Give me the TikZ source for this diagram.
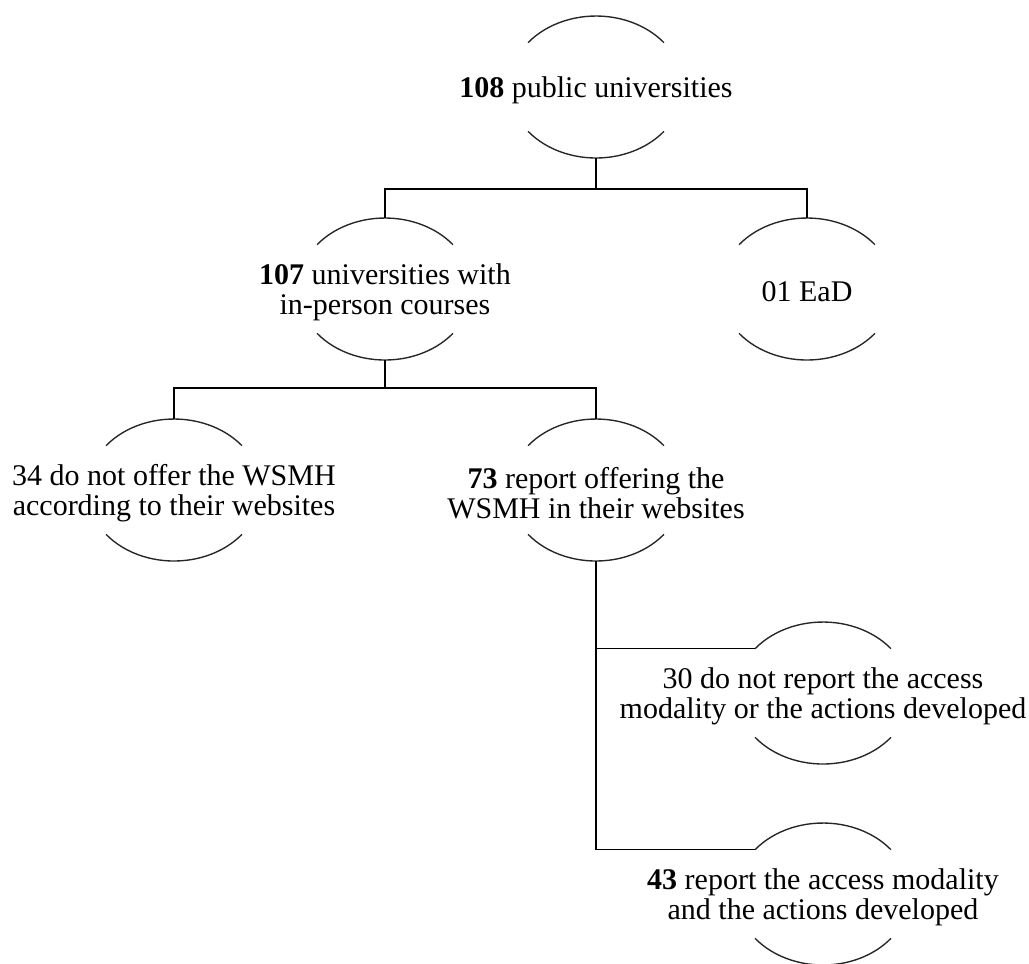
\documentclass[tikz,border=0pt]{standalone}
\usepackage{fontspec}
\setmainfont{Liberation Serif}
\usepackage{tikz}
\usetikzlibrary{positioning}

% top and bottom caps of an oval round a node, plus anchors for the links
\newcommand{\ovalcaps}[1]{%
  \coordinate (#1-c) at ([yshift=1.2pt]#1.center);
  \draw [ovalarc] ([shift={(141.4:34.8pt and 28.4pt)}]#1-c) arc [start angle=141.4, end angle=38.6, x radius=34.8pt, y radius=28.4pt];
  \draw [ovalarc] ([shift={(218.6:34.8pt and 28.4pt)}]#1-c) arc [start angle=218.6, end angle=321.4, x radius=34.8pt, y radius=28.4pt];
  \coordinate (#1-t) at ([yshift=28.4pt]#1-c);
  \coordinate (#1-b) at ([yshift=-28.4pt]#1-c);
  \coordinate (#1-l) at ([shift={(141.4:34.8pt and 28.4pt)}]#1-c);
}

\begin{document}
\begin{tikzpicture} [x=0.4pt, y=0.4pt, on grid, font=\fontsize{12}{12}\selectfont,
	txt/.style = {align=center, inner sep=0pt},
	ovalarc/.style = {black!85, line width=0.55pt},
	link/.style = {black, line width=0.6pt},
	fork/.style = {to path={-- ++(0,-#1) -| (\tikztotarget)}},
	drop/.style = {to path={|- (\tikztotarget)}}]
			% Frame: keeps the page size of the reference
			\useasboundingbox (0,0) rectangle (1029,-963);
			% Root node : every other node is placed from this one
			\node (n108) [txt] at (596,-90) {\textbf{108} public universities};
			% Second level
			\node (n107) [txt, below left = 80.8pt and 84.4pt of n108] {\textbf{107} universities with\\in-person courses};
			\node (nEaD) [txt, right = 168.8pt of n107] {01 EaD};
			% Third level
			\node (n34) [txt, below left = 80.4pt and 84.4pt of n107] {34 do not offer the WSMH\\according to their websites};
			\node (n73) [txt, right = 168.8pt of n34] {\textbf{73} report offering the\\WSMH in their websites};
			% Fourth level
			\node (n30) [txt, below right = 81.2pt and 90.8pt of n73] {30 do not report the access\\modality or the actions developed};
			\node (n43) [txt, below = 80.4pt of n30] {\textbf{43} report the access modality\\and the actions developed};
			% Oval caps
			\foreach \n in {n108, n107, nEaD, n34, n73, n30, n43}
				\ovalcaps{\n};
			% Draw Connections
			\path [link]
			(n108-b) edge [fork=12.4pt] (n107-t)
			(n108-b) edge [fork=12.4pt] (nEaD-t)
			(n107-b) edge [fork=11.2pt] (n34-t)
			(n107-b) edge [fork=11.2pt] (n73-t)
			(n73-b) edge [drop] (n30-l)
			(n73-b) edge [drop] (n43-l);
		\end{tikzpicture}
\end{document}
